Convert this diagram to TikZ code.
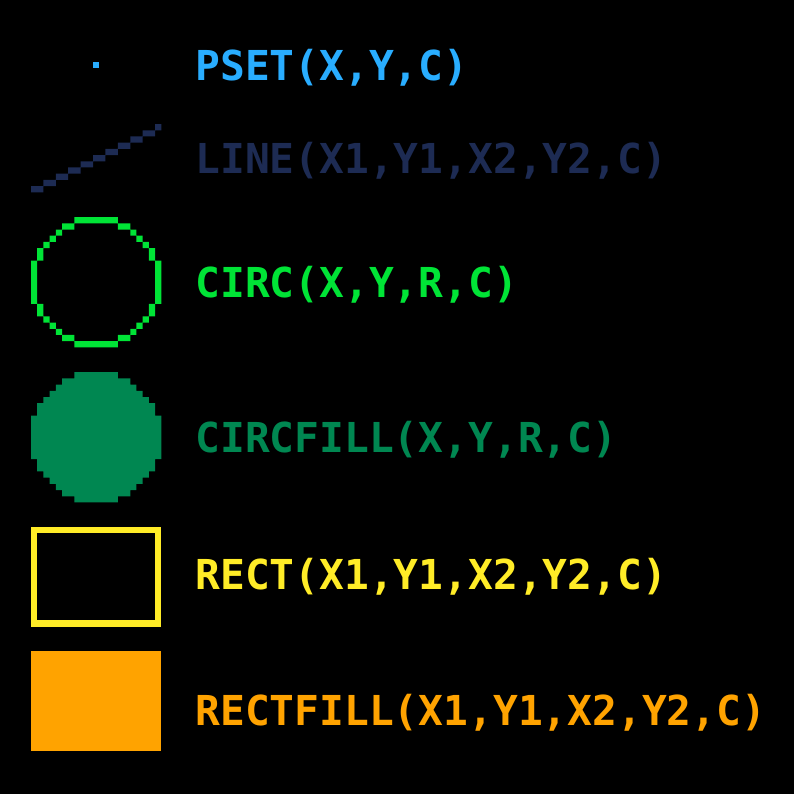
\documentclass[tikz,border=0pt]{standalone}
\usepackage{fontspec}
\newfontfamily\picofont{DejaVu Sans Mono}
\definecolor{pblue}{HTML}{29ADFF}
\definecolor{pnavy}{HTML}{1D2B53}
\definecolor{pgreen}{HTML}{00E436}
\definecolor{pdgreen}{HTML}{008751}
\definecolor{pyellow}{HTML}{FFEC27}
\definecolor{porange}{HTML}{FFA300}
\begin{document}
\begin{tikzpicture}[x=1mm,y=-1mm,
  lbl/.style={anchor=base west, inner sep=0pt, outer sep=0pt,
    font=\picofont\bfseries\fontsize{18.91pt}{20pt}\selectfont, text=#1}]
\fill[black] (0,0) rectangle (128,128);
\useasboundingbox (0,0) rectangle (128,128);
% pset
\fill[pblue] (15,10) rectangle ++(1,1);
% line
\fill[pnavy] \foreach \i in {0,...,9} { ({5+2*\i},{30-\i}) rectangle ++(2,1) } (25,20) rectangle ++(1,1);
% circ outline
\fill[pgreen] \foreach \dy/\a/\b in {10/0/3,9/4/5,8/6/6,7/7/7,6/8/8,5/9/9,4/9/9,3/10/10,2/10/10,1/10/10,0/10/10} {
  \foreach \sy in {1,-1} {
    ({15+\a},{45+\sy*\dy}) rectangle ({16+\b},{46+\sy*\dy})
    ({15-\b},{45+\sy*\dy}) rectangle ({16-\a},{46+\sy*\dy})
  }
};
% circfill
\fill[pdgreen] \foreach \dy/\h in {10/3,9/5,8/6,7/7,6/8,5/9,4/9,3/10,2/10,1/10,0/10} {
  \foreach \sy in {1,-1} {
    ({15-\h},{70+\sy*\dy}) rectangle ({16+\h},{71+\sy*\dy})
  }
};
% rect
\draw[pyellow, line width=1mm] (5.5,85.5) rectangle (25.5,100.5);
% rectfill
\fill[porange] (5,105) rectangle (26,121);
% labels
\node[lbl=pblue] (tpset) at (31.5,13) {PSET(X,Y,C)};
\node[lbl=pnavy] (tline) at (31.5,28) {LINE(X1,Y1,X2,Y2,C)};
\node[lbl=pgreen] (tcirc) at (31.5,48) {CIRC(X,Y,R,C)};
\node[lbl=pdgreen] (tcircfill) at (31.5,73) {CIRCFILL(X,Y,R,C)};
\node[lbl=pyellow] (trect) at (31.5,95) {RECT(X1,Y1,X2,Y2,C)};
\node[lbl=porange] (trectfill) at (31.5,117) {RECTFILL(X1,Y1,X2,Y2,C)};
\end{tikzpicture}
\end{document}
